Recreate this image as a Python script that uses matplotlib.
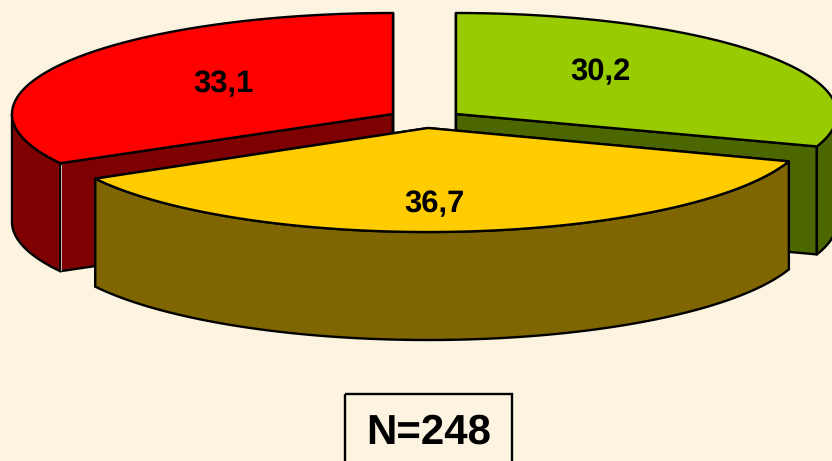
import numpy as np
import matplotlib
matplotlib.use('Agg')
import matplotlib.pyplot as plt
from matplotlib.patches import Polygon, Rectangle

plt.rcParams['font.family'] = ['Liberation Sans', 'DejaVu Sans']
plt.rcParams['text.hinting'] = 'no_hinting'
plt.rcParams['text.hinting_factor'] = 1

# slices, clockwise from 12 o'clock
values = [30.2, 36.7, 33.1]
labels = ['30,2', '36,7', '33,1']
top_colors = ['#99CC00', '#FFCC00', '#FF0000']
side_colors = ['#4C6600', '#806600', '#7F0000']
n_label = 'N=248'

# exploded centre of each slice and label spot, in pixels
centers = [(456, 114), (428, 128), (393, 114)]
label_pos = [(600, 72), (434, 204), (223, 84)]
radii = [(381, 101), (381, 104), (381, 101)]
depth = 108
bg = '#FCF4E0'

fig = plt.figure(figsize=(8.32, 4.61), dpi=100, facecolor=bg)
ax = fig.add_axes([0, 0, 1, 1])
ax.set_xlim(0, 832)
ax.set_ylim(461, 0)
ax.axis('off')


def rim(i, a0, a1):
    cx, cy = centers[i]
    rx, ry = radii[i]
    t = np.radians(np.linspace(a0, a1, 200))
    return np.column_stack([cx + rx * np.cos(t), cy - ry * np.sin(t)])


def poly(pts, color, z):
    ax.add_patch(Polygon(pts, closed=True, fc=color, ec='black', lw=1.7,
                         joinstyle='round', zorder=z))


edges = 90 - np.cumsum([0] + values) / sum(values) * 360
draw_order = [0, 2, 1]  # yellow sits in front of the other two
for n, i in enumerate(draw_order):
    a0, a1 = edges[i], edges[i + 1]
    cx, cy = centers[i]
    z = 2 + n * 3

    # cut faces, going straight down from the top edges
    for a in (a0, a1):
        p = rim(i, a, a)[0]
        poly([(cx, cy), p, p + (0, depth), (cx, cy + depth)], side_colors[i], z)

    # outer wall, only the part of the rim facing the viewer
    lo, hi = max(a1, -180), min(a0, 0)
    wall = rim(i, hi, lo)
    poly(np.vstack([wall, wall[::-1] + (0, depth)]), side_colors[i], z + 1)

    # thin light seam where the red wall meets its cut face
    if i == 2:
        p = rim(i, a0, a0)[0]
        ax.plot([p[0] + 0.8, p[0] + 0.8], [p[1] + 2, p[1] + depth - 1],
                color='#C8C0B0', lw=0.7, zorder=z + 1.5)

    # top face
    poly(np.vstack([[(cx, cy)], rim(i, a0, a1)]), top_colors[i], z + 2)

    ax.text(*label_pos[i], labels[i], fontsize=22.5, fontweight='bold',
            ha='center', va='center', color='black', zorder=30)

ax.add_patch(Rectangle((344.5, 393.5), 167, 80, fc='none', ec='black', lw=1.7,
                       zorder=20))
ax.text(428.5, 433, n_label, fontsize=30.5, fontweight='bold', ha='center',
        va='center', color='black', zorder=30)

fig.savefig('out.png', dpi=100, facecolor=bg)
